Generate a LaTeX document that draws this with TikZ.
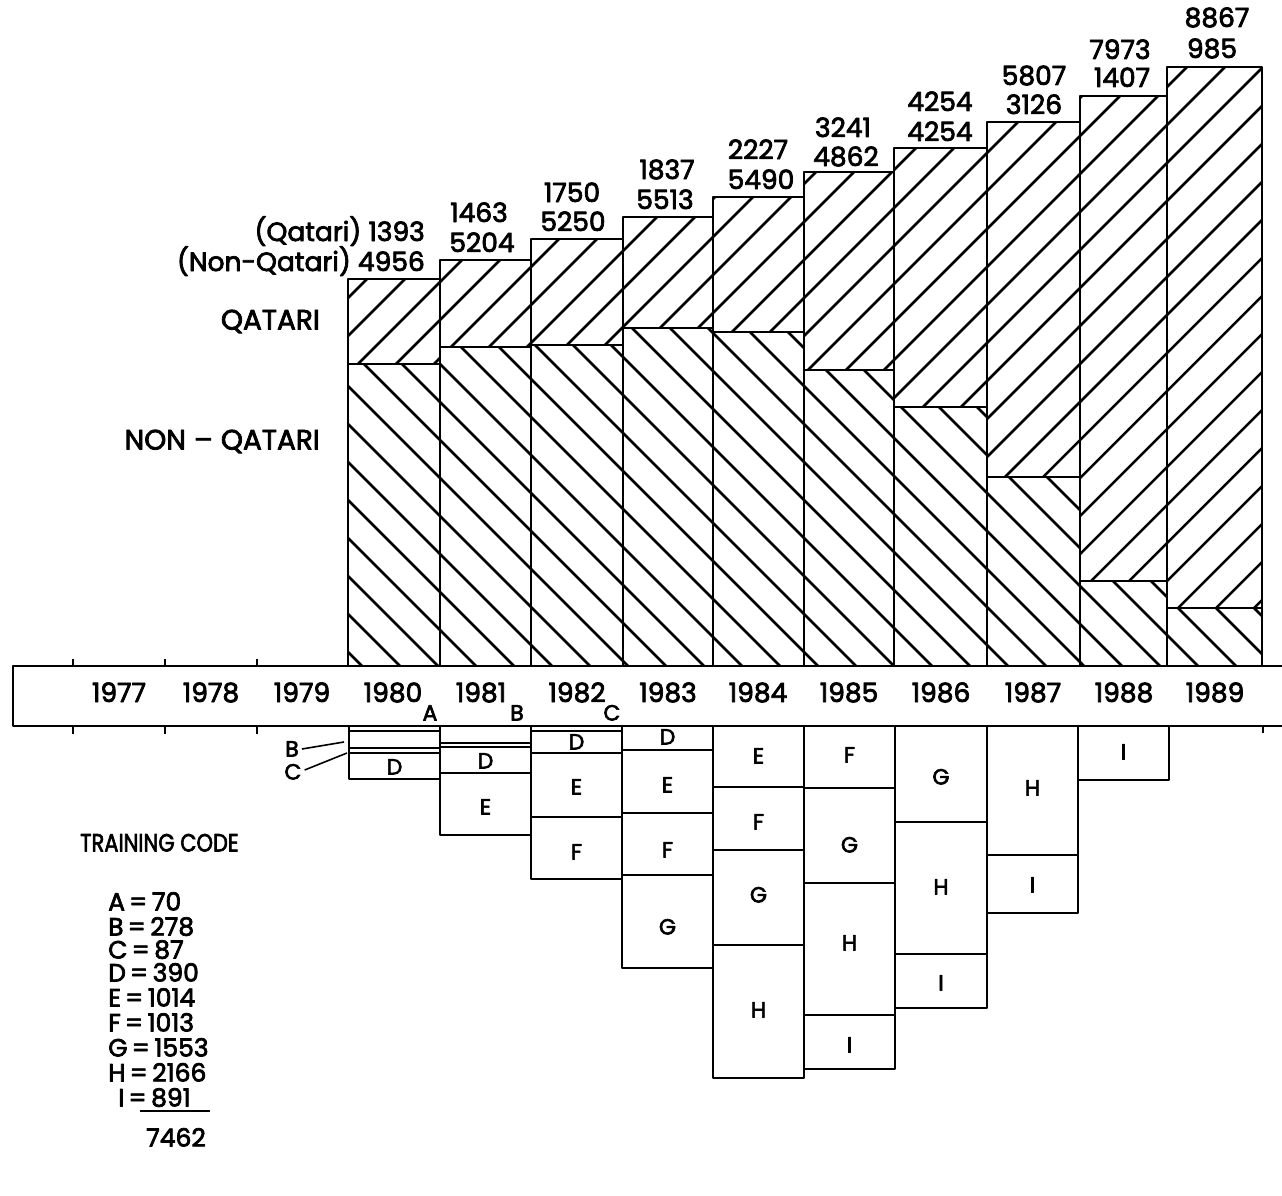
\documentclass[tikz,border=0pt]{standalone}
\usepackage{fontspec}
\setmainfont{Poppins}
\newfontfamily\lett{Poppins}[FakeBold=2.8]
\usepackage{graphicx}
% "/" hatching, clipped analytically to the box [#1,#3]x[#2,#4] (y downwards)
\newcommand\hatchup[4]{%
 \pgfmathtruncatemacro\hca{ceil((#1+#2)/38)}%
 \pgfmathtruncatemacro\hcb{floor((#3+#4)/38)}%
 \foreach \k in {\hca,...,\hcb}{%
   \pgfmathsetmacro\ylo{min(#4,\k*38-#1)}%
   \pgfmathsetmacro\yhi{max(#2,\k*38-#3)}%
   \draw[hl] ({\k*38-\ylo},\ylo) -- ({\k*38-\yhi},\yhi);
 }}
% "\" hatching
\newcommand\hatchdown[4]{%
 \pgfmathtruncatemacro\hca{ceil((#1-#4)/38)}%
 \pgfmathtruncatemacro\hcb{floor((#3-#2)/38)}%
 \foreach \k in {\hca,...,\hcb}{%
   \pgfmathsetmacro\ylo{max(#2,#1-\k*38)}%
   \pgfmathsetmacro\yhi{min(#4,#3-\k*38)}%
   \draw[hl] ({\k*38+\ylo},\ylo) -- ({\k*38+\yhi},\yhi);
 }}
\begin{document}
\begin{tikzpicture}[x=1pt,y=-1pt,line join=round,
 box/.style={line width=2.8pt},
 hl/.style={line width=2.5pt},
 thin/.style={line width=1.6pt},
 big/.style={inner sep=0pt,font=\lett\fontsize{26.5}{28}\selectfont,text height=18pt,text depth=0pt},
 ser/.style={inner sep=0pt,font=\lett\fontsize{28}{30}\selectfont,text height=19pt,text depth=0pt},
 mid/.style={inner sep=0pt,font=\lett\fontsize{22}{24}\selectfont,text height=15pt,text depth=0pt},
 leg/.style={inner sep=0pt,font=\lett\fontsize{25}{27}\selectfont,text height=17pt,text depth=0pt}]
\useasboundingbox (0,0) rectangle (1282,1196);

% bars
\foreach \xa/\xb/\yt/\ys in {348/440/279/364,440/531/260/347,531/623/239/345,623/713/217/328,713/804/197/332,804/894/172/370,894/987/148/407,987/1080/122/477,1080/1167/96/581,1167/1262/67/608}{
  \hatchup{\xa}{\yt}{\xb}{\ys}
  \hatchdown{\xa}{\ys}{\xb}{666}
  \draw[box] (\xa,\yt) rectangle (\xb,\ys);
  \draw[box] (\xa,\ys) rectangle (\xb,666);
}

% axis band
\draw[box] (1290,666) -- (13,666) -- (13,726) -- (1290,726);
\foreach \x in {73,165,257}{
  \draw[box] (\x,659) -- (\x,666);
  \draw[box] (\x,726) -- (\x,734);
}
\draw[box] (1263,726) -- (1263,733);

% year labels
\foreach \y/\x in {1977/119,1978/211,1979/302,1980/393,1981/481,1982/577,1983/668,1984/758,1985/849,1986/941,1987/1033,1988/1124,1989/1215}{
  \node[big] (yr\y) at (\x,693) {\y};
}

% top value labels
\node[big,anchor=east] (q80) at (425,232) {(Qatari) 1393};
\node[big,anchor=east] (n80) at (425,262) {(Non-Qatari) 4956};
\foreach \n/\xq/\yq/\tq/\xn/\yn/\tn in {81/479/213/1463/482/243/5204,82/572/193/1750/573/222/5250,83/667/170/1837/665/200/5513,84/758/150/2227/761/180/5490,85/843/128/3241/846/157/4862,86/940/102/4254/940/132/4254,87/1034/76/5807/1034/105/3126,88/1120/50/7973/1122/78/1407,89/1217/18/8867/1212/49/985}{
  \node[big] (q\n) at (\xq,\yq) {\tq};
  \node[big] (n\n) at (\xn,\yn) {\tn};
}

% series labels
\node[ser,anchor=east] (qlab) at (320,320) {QATARI};
\node[ser,anchor=east] (nlab) at (320,440) {NON\hspace{8pt}–\hspace{8pt}QATARI};

% lower boxes without label
\foreach \xa/\xb/\ya/\yb in {349/440/726/731,349/440/731/748,349/440/748/753,440/531/726/743,440/531/743/747,531/622/726/731}{
  \draw[box] (\xa,\ya) rectangle (\xb,\yb);
}
% lower boxes with label
\foreach \xa/\xb/\ya/\yb/\lab/\ly in {349/440/753/779/D/767,440/531/747/773/D/761,440/531/773/835/E/807,531/622/731/753/D/742,531/622/753/817/E/787,531/622/817/879/F/852,622/713/726/750/D/737,622/713/750/813/E/785,622/713/813/875/F/850,622/713/875/968/G/927,713/804/726/787/E/756,713/804/787/850/F/822,713/804/850/945/G/895,713/804/945/1078/H/1010,804/895/726/788/F/755,804/895/788/883/G/845,804/895/883/1015/H/943,804/895/1015/1069/I/1045,895/987/726/822/G/777,895/987/822/954/H/887,895/987/954/1008/I/983,987/1078/726/855/H/788,987/1078/855/913/I/885,1078/1169/726/780/I/752}{
  \draw[box] (\xa,\ya) rectangle (\xb,\yb);
  \node[mid] (b\xa-\ya) at ({(\xa+\xb)/2},\ly) {\lab};
}

% A B C markers at the axis
\node[mid] (ma) at (430,713) {A};
\node[mid] (mb) at (517,713) {B};
\node[mid] (mc) at (612,713) {C};

% leaders for B and C of 1980
\node[mid] (lb) at (292,749) {B};
\node[mid] (lc) at (293,772) {C};
\coordinate (pb) at (344,742);
\coordinate (pc) at (347,753);
\draw[thin] (lb.east) ++(3,0) -- (pb);
\draw[thin] (lc.east) ++(3,-2) -- (pc);

% legend
\node[leg,anchor=west] (tc) at (80,843) {\scalebox{0.84}[1]{TRAINING CODE}};
\foreach \t/\yy/\xx in {A/902/108,B/927/108,C/950/108,D/973/108,E/998/108,F/1023/108,G/1048/108,H/1073/108,I/1098/118}{
  \node[leg,anchor=west] (k\t) at (\xx,\yy) {\t\,=\,};
}
\foreach \t/\v in {A/70,B/278,C/87,D/390,E/1014,F/1013,G/1553,H/2166,I/891}{
  \node[leg,anchor=west] (v\t) at (k\t.east) {\v};
}
\coordinate (ula) at (140,1111);
\coordinate (ulb) at (210,1111);
\draw[line width=2.4pt] (ula) -- (ulb);
\node[leg] (tot) at (176,1138) {7462};
\end{tikzpicture}
\end{document}
